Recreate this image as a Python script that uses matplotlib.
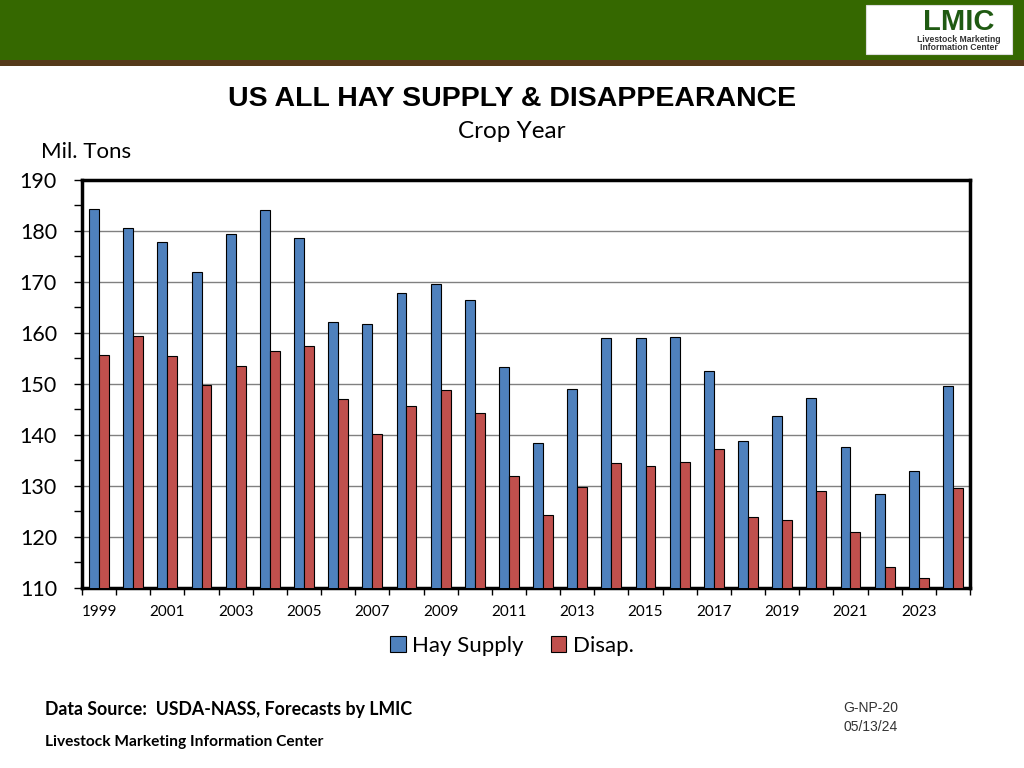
import matplotlib
matplotlib.use("Agg")
import matplotlib.pyplot as plt
from matplotlib.patches import Rectangle
import numpy as np

years = list(range(1999, 2025))
hay_supply = [184.4, 180.6, 177.8, 171.9, 179.5, 184.1, 178.7, 162.1, 161.8, 167.8,
              169.7, 166.5, 153.3, 138.4, 149.1, 159.1, 159.0, 159.2, 152.5, 138.9,
              143.7, 147.2, 137.7, 128.5, 133.0, 149.7]
disap = [155.6, 159.5, 155.4, 149.9, 153.6, 156.4, 157.4, 147.1, 140.2, 145.7,
         148.8, 144.3, 132.0, 124.3, 129.9, 134.5, 133.9, 134.8, 137.2, 124.0,
         123.3, 129.1, 120.9, 114.1, 112.0, 129.7]
tick_labels = [str(y) if (y - 1999) % 2 == 0 else "" for y in years]

FONT = "Lato"
fig = plt.figure(figsize=(10.24, 7.68), dpi=100)
fig.patch.set_facecolor("white")

# header band
fig.patches.append(Rectangle((0, 1 - 60 / 768), 1, 60 / 768, transform=fig.transFigure,
                             facecolor="#356800", edgecolor="none", zorder=0))
fig.patches.append(Rectangle((0, 1 - 66 / 768), 1, 6 / 768, transform=fig.transFigure,
                             facecolor="#553a1a", edgecolor="none", zorder=0))
# logo box
fig.patches.append(Rectangle((866 / 1024, 1 - 54 / 768), 146 / 1024, 49 / 768,
                             transform=fig.transFigure, facecolor="white",
                             edgecolor="#dddddd", lw=0.8, zorder=1))
fig.text(959 / 1024, 1 - 30 / 768, "LMIC", ha="center", va="baseline", fontsize=21,
         fontweight="bold", color="#1f5a12", family="Liberation Sans", zorder=2)
fig.text(959 / 1024, 1 - 39 / 768, "Livestock Marketing", ha="center", va="center",
         fontsize=6.2, fontweight="bold", color="#333333", family="Liberation Sans", zorder=2)
fig.text(959 / 1024, 1 - 48 / 768, "Information Center", ha="center", va="center",
         fontsize=6.2, fontweight="bold", color="#333333", family="Liberation Sans", zorder=2)

# titles
fig.text(512 / 1024, 1 - 99 / 768, "US ALL HAY SUPPLY & DISAPPEARANCE", ha="center",
         va="center", fontsize=20.5, fontweight="bold", family="Liberation Sans")
fig.text(512 / 1024, 1 - 132 / 768, "Crop Year", ha="center", va="center",
         fontsize=17.5, family=FONT)
fig.text(86 / 1024, 1 - 152 / 768, "Mil. Tons", ha="center", va="center",
         fontsize=16, family=FONT)

ax = fig.add_axes([82 / 1024, 1 - 588 / 768, 888 / 1024, 408 / 768])
x = np.arange(len(years))
w = 0.29
ax.bar(x - w / 2, hay_supply, w, color="#4F81BD", edgecolor="black", lw=0.8,
       label="Hay Supply", zorder=3)
ax.bar(x + w / 2, disap, w, color="#C0504D", edgecolor="black", lw=0.8,
       label="Disap.", zorder=3)
ax.set_xlim(-0.5, len(years) - 0.5)
ax.set_ylim(110, 190)
ax.set_yticks(np.arange(110, 191, 10))
ax.set_yticks(np.arange(115, 190, 10), minor=True)
ax.yaxis.grid(True, which="major", color="#808080", lw=1.0, zorder=0)
ax.set_xticks(x)
ax.set_xticklabels(tick_labels, fontsize=11, family=FONT)
ax.set_xticks(np.arange(-0.5, len(years) + 0.5, 1), minor=True)
ax.tick_params(axis="x", which="major", length=0, pad=12)
ax.tick_params(axis="x", which="minor", length=5, width=1, direction="out")
ax.tick_params(axis="y", which="both", length=6, width=1, direction="out", pad=12)
for lab in ax.get_yticklabels():
    lab.set_fontsize(15.5)
    lab.set_family(FONT)
for s in ax.spines.values():
    s.set_linewidth(2.5)
    s.set_color("black")

fig.legend(loc="center", bbox_to_anchor=(512 / 1024, 1 - 646 / 768), ncol=2, frameon=False,
           prop={"family": FONT, "size": 16}, handlelength=0.7, handleheight=0.7,
           columnspacing=1.2, handletextpad=0.3)

# footer
fig.text(45 / 1024, 1 - 710 / 768, "Data Source:  USDA-NASS, Forecasts by LMIC",
         ha="left", va="center", fontsize=12.8, fontweight="bold", family=FONT)
fig.text(45 / 1024, 1 - 742 / 768, "Livestock Marketing Information Center",
         ha="left", va="center", fontsize=11.2, fontweight="bold", family=FONT)
fig.text(843 / 1024, 1 - 708 / 768, "G-NP-20", ha="left", va="center", fontsize=10,
         family="Liberation Sans", color="#333333")
fig.text(843 / 1024, 1 - 727 / 768, "05/13/24", ha="left", va="center", fontsize=10,
         family="Liberation Sans", color="#333333")

fig.savefig("out.png", dpi=100)
